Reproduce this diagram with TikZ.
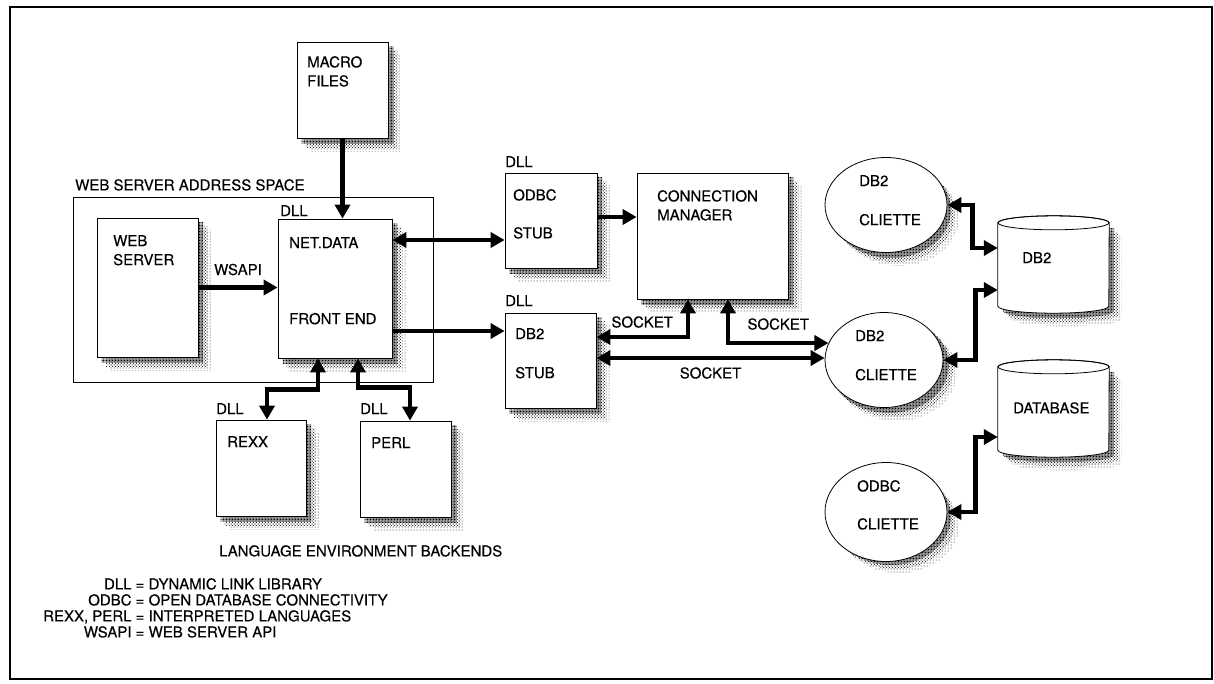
\documentclass[tikz,border=0pt]{standalone}
\usepackage{fontspec}
\setmainfont{TeX Gyre Heros}[FakeBold=0.3]
\usetikzlibrary{arrows.meta,shapes.geometric,backgrounds,patterns}

% dense stipple for the inner part of the shadows
\pgfdeclarepatternformonly{densedots}{\pgfqpoint{-1pt}{-1pt}}{\pgfqpoint{1pt}{1pt}}
    {\pgfqpoint{1.5pt}{1.5pt}}
    {\pgfpathcircle{\pgfqpoint{0pt}{0pt}}{0.6pt}\pgfusepath{fill}}

\begin{document}
\begin{tikzpicture}[
    x=1pt, y=1pt,
    font=\fontsize{15}{19}\selectfont,
    box/.style     = {draw, line width=0.8pt, fill=white, inner sep=0pt},
    cliette/.style = {box, ellipse},
    store/.style   = {inner sep=0pt, minimum width=111pt, minimum height=97pt},
    rim/.style     = {draw, line width=0.8pt, fill=white},
    shadowA/.style = {pattern=dots, pattern color=black},
    shadowB/.style = {pattern=crosshatch dots, pattern color=black},
    shadowC/.style = {pattern=densedots, pattern color=black},
    txt/.style     = {anchor=north west, align=left, inner sep=0pt},
    lbl/.style     = {inner sep=0pt},
    ar/.style      = {-{Triangle[length=14pt, width=15pt]}, line width=4.5pt},
    dar/.style     = {{Triangle[length=14pt, width=15pt]}-{Triangle[length=14pt, width=15pt]},
                      line width=4.5pt},
]
\useasboundingbox (0,0) rectangle (1214,-683);
\draw[line width=1.2pt] (10,-7) rectangle (1212,-679);

% ---------------- web server address space ----------------
\node[draw, line width=0.8pt, inner sep=0pt, minimum width=360pt, minimum height=185pt]
    (space) at (253,-289.5) {};
\node[txt] (spacelbl) at (75,-179) {WEB SERVER ADDRESS SPACE};

\node[box, minimum width=101pt, minimum height=139pt] (web) at (147.5,-287.5) {};
\node[txt] (webtxt) at (113,-235) {WEB\\SERVER};

\node[box, minimum width=114pt, minimum height=139pt] (net) at (335,-288.5) {};
\node[txt] (netdll) at (280,-205) {DLL};
\node[txt] (nettxt) at (289,-237) {NET.DATA\\[57pt]FRONT END};

\node[box, minimum width=91pt, minimum height=96pt] (macro) at (342.5,-90) {};
\node[txt] (macrotxt) at (307,-56) {MACRO\\FILES};

\draw[ar] (web.east) -- node[lbl, above=10pt] {WSAPI} (web.east -| net.west);
\draw[ar] (macro.south) -- (macro.south |- net.north);

% ---------------- stubs and connection manager ----------------
\node[box, minimum width=92pt, minimum height=95pt] (odbcstub) at (551,-220.5) {};
\node[txt] (odbcdll) at (505,-156) {DLL};
\node[txt] (odbctxt) at (513,-189) {ODBC\\[19pt]STUB};

\node[box, minimum width=91pt, minimum height=95pt] (db2stub) at (550.5,-360.5) {};
\node[txt] (db2dll) at (505,-295) {DLL};
\node[txt] (db2txt) at (515,-328) {DB2\\[20pt]STUB};

\node[box, minimum width=151pt, minimum height=126pt] (connmgr) at (712.5,-236) {};
\node[txt] (conntxt) at (657,-190) {CONNECTION\\MANAGER};

\coordinate (odbcin) at ([yshift=-19.5pt]odbcstub.west);
\coordinate (db2in) at ([yshift=29.5pt]db2stub.west);
\coordinate (odbcout) at ([yshift=3.5pt]odbcstub.east);
\draw[dar] (net.east |- odbcin) -- (odbcin);
\draw[ar] (net.east |- db2in) -- (db2in);
\draw[ar] (odbcout) -- (odbcout -| connmgr.west);

% ---------------- language backends ----------------
\node[box, minimum width=90pt, minimum height=96pt] (rexx) at (261,-468) {};
\node[txt] (rexxdll) at (216,-403) {DLL};
\node[txt] (rexxtxt) at (227,-436) {REXX};

\node[box, minimum width=91pt, minimum height=96pt] (perl) at (405.5,-469) {};
\node[txt] (perldll) at (360,-403) {DLL};
\node[txt] (perltxt) at (371,-437) {PERL};

\draw[dar] ([xshift=-17pt]net.south) -- ++(0,-31) -| ([xshift=6pt]rexx.north);
\draw[dar] ([xshift=23pt]net.south) -- ++(0,-29) -| ([xshift=4.5pt]perl.north);

\node[txt] (backends) at (219,-545) {LANGUAGE ENVIRONMENT BACKENDS};

% ---------------- cliettes and databases ----------------
\node[cliette, minimum width=122pt, minimum height=95pt] (cl1) at (886,-205) {};
\node[txt] (cl1txt) at (859,-175) {DB2\\[20pt]CLIETTE};
\node[cliette, minimum width=118pt, minimum height=95pt] (cl2) at (884,-360) {};
\node[txt] (cl2txt) at (855,-330) {DB2\\[20pt]CLIETTE};
\node[cliette, minimum width=122pt, minimum height=99pt] (cl3) at (886,-512) {};
\node[txt] (cl3txt) at (857,-480) {ODBC\\[19pt]CLIETTE};

\node[store] (db2) at (1053.5,-264.5) {};
\node[store] (database) at (1053.5,-408.5) {};

% cylinder outlines (drawn by hand round the two store nodes)
\foreach \c in {db2,database} {
    \path[rim] ([yshift=-7pt]\c.north west) -- ([yshift=7pt]\c.south west)
        arc[start angle=180, end angle=360, x radius=55.5, y radius=7]
        -- ([yshift=-7pt]\c.north east)
        arc[start angle=0, end angle=180, x radius=55.5, y radius=7] -- cycle;
    \draw[line width=0.8pt] ([yshift=-7pt]\c.north) ellipse [x radius=55.5, y radius=7];
}
\node[txt] (db2cyltxt) at (1022,-252) {DB2};
\node[txt] (dbtxt) at (1013,-402) {DATABASE};

% sockets
\coordinate (sk1) at ([yshift=23.5pt]db2stub.east);
\coordinate (sk3) at ([yshift=2.5pt]db2stub.east);
\draw[dar] (sk1) -| node[lbl, pos=0.25, above=7pt] {SOCKET} ([xshift=-24.5pt]connmgr.south);
\draw[dar] ([xshift=15.5pt]connmgr.south) |- node[lbl, pos=0.75, above=11pt] {SOCKET} (cl2.163);
\draw[dar] (sk3) -- node[lbl, below=7pt] {SOCKET} (sk3 -| cl2.west);

\draw[dar] (cl1.east) -- ++(25,0) |- ([yshift=16.5pt]db2.west);
\draw[dar] (cl2.east) -- ++(32,0) |- ([yshift=-25.5pt]db2.west);
\draw[dar] (cl3.east) -- ++(28,0) |- ([yshift=-28.5pt]database.west);

% ---------------- legend ----------------
\node[anchor=north west, inner sep=0pt, font=\fontsize{15}{16}\selectfont] (legend) at (43,-578)
    {\begin{tabular}{@{}r@{ = }l@{}}
     DLL & DYNAMIC LINK LIBRARY\\
     ODBC & OPEN DATABASE CONNECTIVITY\\
     REXX, PERL & INTERPRETED LANGUAGES\\
     WSAPI & WEB SERVER API
     \end{tabular}};

% ---------------- shadows ----------------
\begin{scope}[on background layer]
    \foreach \s/\sty in {13/shadowA, 9/shadowB, 5/shadowC} {
        \foreach \b in {web,net,macro,odbcstub,db2stub,connmgr,rexx,perl}
            \fill[\sty] ([shift={(\s,-\s)}]\b.south west) rectangle ([shift={(\s,-\s)}]\b.north east);
        \foreach \b in {cl1,cl2,cl3}
            \fill[\sty] ([shift={(\s,-\s)}]\b.center) ellipse [x radius=60, y radius=48];
        \foreach \b in {db2,database}
            \fill[\sty] ([shift={(\s,-\s-7)}]\b.north west) rectangle ([shift={(\s,-\s+7)}]\b.south east)
                ([shift={(\s,-\s+7)}]\b.south) ellipse [x radius=55.5, y radius=7];
    }
\end{scope}

\end{tikzpicture}
\end{document}
